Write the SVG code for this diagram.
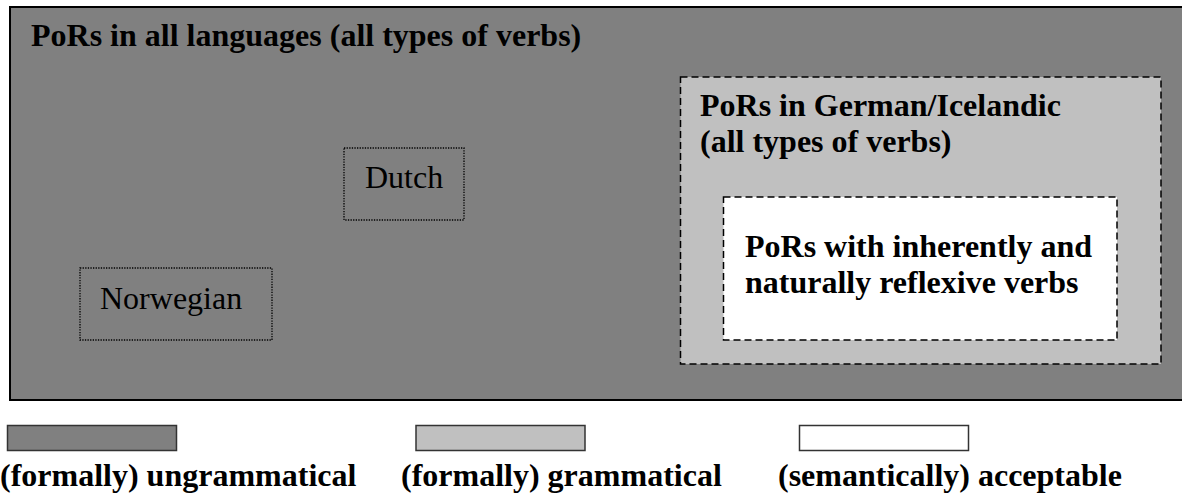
<svg xmlns="http://www.w3.org/2000/svg" width="1182" height="495" viewBox="0 0 1182 495">
<style>
text{font-family:"Liberation Serif","Times New Roman",serif;font-size:32px;fill:#000}
.b{font-weight:bold}
.dash{stroke:#000;stroke-width:1.5;stroke-dasharray:7 4}
.dot{fill:none;stroke:#000;stroke-width:1.3;stroke-dasharray:1.3 1.3}
.leg{stroke:#333;stroke-width:1.5}
</style>
<rect width="1182" height="495" fill="#fff"/>
<g id="all-languages">
<rect x="10" y="7" width="1180" height="393" fill="#808080" stroke="#000" stroke-width="2"/>
<text class="b" x="31" y="46">PoRs in all languages (all types of verbs)</text>
</g>
<g id="german-icelandic">
<rect class="dash" x="680.5" y="77" width="480.5" height="287" fill="#c0c0c0"/>
<text class="b" x="700" y="116">PoRs in German/Icelandic</text>
<text class="b" x="700" y="152">(all types of verbs)</text>
</g>
<g id="inherent-reflexive">
<rect class="dash" x="723.5" y="197" width="393.5" height="143" fill="#fff"/>
<text class="b" x="745" y="257">PoRs with inherently and</text>
<text class="b" x="745" y="293">naturally reflexive verbs</text>
</g>
<g id="dutch">
<rect class="dot" x="344" y="148" width="120" height="72"/>
<text x="365" y="188">Dutch</text>
</g>
<g id="norwegian">
<rect class="dot" x="80" y="268" width="192" height="72"/>
<text x="100" y="309">Norwegian</text>
</g>
<g id="connectors"/>
<g id="legend-ungrammatical">
<rect class="leg" x="7.5" y="425.5" width="169" height="25" fill="#808080"/>
<text class="b" x="0" y="486">(formally) ungrammatical</text>
</g>
<g id="legend-grammatical">
<rect class="leg" x="416" y="425.5" width="169" height="25" fill="#c0c0c0"/>
<text class="b" x="401" y="486">(formally) grammatical</text>
</g>
<g id="legend-acceptable">
<rect class="leg" x="799.5" y="425.5" width="169" height="25" fill="#fff"/>
<text class="b" x="778" y="486">(semantically) acceptable</text>
</g>
</svg>
